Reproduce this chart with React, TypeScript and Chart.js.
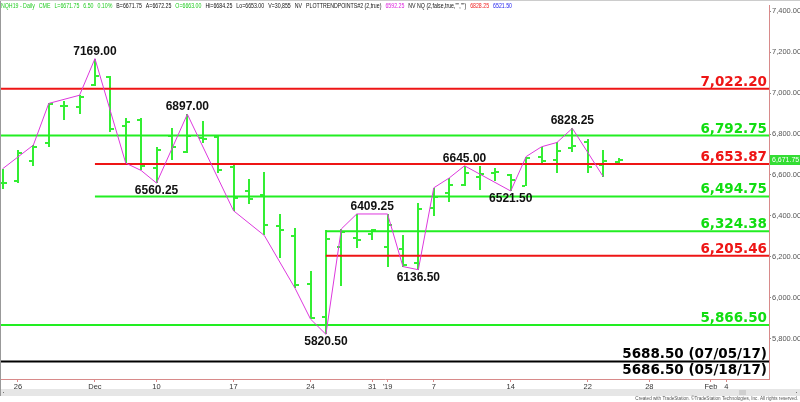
import { useEffect, useRef } from 'react';
import { Chart, registerables } from 'chart.js';

Chart.register(...registerables);

// ---- Data ----
const BAR_DATES = ['Nov 23','Nov 26','Nov 27','Nov 28','Nov 29','Nov 30','Dec 3','Dec 4','Dec 6','Dec 7','Dec 10','Dec 11','Dec 12','Dec 13','Dec 14','Dec 17','Dec 18','Dec 19','Dec 20','Dec 21','Dec 24','Dec 26','Dec 27','Dec 28','Dec 31','Jan 2','Jan 3','Jan 4','Jan 7','Jan 8','Jan 9','Jan 10','Jan 11','Jan 14','Jan 15','Jan 16','Jan 17','Jan 18','Jan 22','Jan 23','Jan 24'];
const BAR_IDX = [-1,0,1,2,3,4,5,6,7,8,9,10,11,12,13,14,15,16,17,18,19,20,21,22,23,24,25,26,27,28,29,30,31,32,33,34,35,36,37,38,39];
const OPEN  = [6560,6572,6666,6754,6939,6931,7040,7080,6840,6870,6634,6790,6714,6780,6785,6640,6520,6500,6350,6300,6065,5906,6250,6290,6310,6250,6240,6171,6440,6510,6553,6590,6610,6600,6548,6690,6674,6730,6762,6650,6663];
const HIGH  = [6630,6722,6746,6950,6963,6990,7169,7083,6879,6879,6735,6831,6897,6864,6791,6653,6581,6613,6409,6340,6128,6329,6336,6409.25,6336,6408,6304,6465,6537,6585,6645,6642,6634,6606,6690,6738,6762,6828.25,6778,6722,6684.25];
const LOW   = [6529,6561,6642,6738,6870,6899,7035,6810,6658,6622,6560.25,6674,6706,6754,6610,6425,6457,6304,6192,6045,5895,5820.5,6055,6245,6281,6152,6152,6136.5,6400,6468,6545,6526,6570,6521.5,6545,6661,6610,6714,6610,6592.25,6653];
const CLOSE = [6562,6706,6738,6947,6935,6979,7085,6826,6858,6645,6722,6735,6790,6776,6623,6489,6481,6353,6330,6063,5902,6288,6320,6280,6330,6353,6160,6436,6490,6553,6610,6605,6617,6575,6682,6666,6719,6740,6640,6666,6671.75];

const PIVOT_IDX = [-1,1,2,4,5,7,8,9,11,14,16,18,19,20,21,22,24,25,26,27,28,29,32,33,34,35,36,38];
const PIVOT_VAL = [6630,6746,6950,6990,7169,6658,6622,6560.25,6897,6425,6304,6045,5895,5820.5,6336,6409.25,6409.25,6152,6136.5,6537,6585,6645,6521.5,6690,6738,6759,6828.25,6592.25];

const SWING_IDX = [5,9,11,20,23,26,29,32,36];
const SWING_VAL = [7169,6560.25,6897,5820.5,6409.25,6136.5,6645,6521.5,6828.25];
const SWING_POS = ['above','below','above','below','above','below','above','below','above'];

const X_MIN = -1.1;
const X_MAX = 48.77;
const LEVEL_VAL   = [7022.20,6792.75,6653.87,6494.75,6324.38,6205.46,5866.50,5688.50,5686.50];
const LEVEL_START = [X_MIN,X_MIN,5,5,20,20,X_MIN,X_MIN,X_MIN];
const LEVEL_KIND  = ['red','green','red','green','green','red','green','black','black'];
const LEVEL_NOTE  = ['','','','','','','','(07/05/17)','(05/18/17)'];

const X_TICK_IDX = [0,5,9,14,19,23,24,27,32,37,41,45,46];
const X_TICK_LABELS = ['26','Dec','10','17','24','31',"'19",'7','14','22','28','Feb','4'];
const Y_TICKS = [5800,6000,6200,6400,6600,6800,7000,7200,7400];
const Y_MIN = 5602;
const Y_MAX = 7429;

const HEADER_TEXT = ['NQH19 - Daily','CME','L=6671.75','6.50','0.10%','B=6671.75','A=6672.25','O=6663.00','Hi=6684.25','Lo=6653.00','V=30,855','NV','PLOTTRENDPOINTS#2 (2,true)','6592.25','NV NQ (2,false,true,"","")','6828.25','6521.50'];
const HEADER_COLOR = ['g','g','g','g','g','k','k','g','k','k','k','k','k','m','k','r','b'];

// ---- Styles ----
const BAR_COLOR = '#33ee33';
const COLORS: Record<string, string> = { red: '#ee1515', green: '#22ee22', black: '#000000' };
const TEXT_COLORS: Record<string, string> = { red: '#ee1515', green: '#11dd11', black: '#000000' };
const HEAD_COLORS: Record<string, string> = { g: '#22cc22', k: '#111111', m: '#dd22dd', r: '#ee2222', b: '#2222ee' };
const AXIS_COLOR = '#d88a8a';
const FONT = 'Arial, "Liberation Sans", sans-serif';
const LABEL_FONT = '"DejaVu Sans", Verdana, sans-serif';

const fmt = (v: number) => v.toLocaleString('en-US', { minimumFractionDigits: 2, maximumFractionDigits: 2 });

const ohlcPlugin = {
  id: 'ohlc',
  beforeDatasetsDraw(chart: any) {
    const { ctx, chartArea: a, scales } = chart;
    const xs = scales.x, ys = scales.y;
    ctx.save();
    ctx.beginPath();
    ctx.rect(a.left, a.top, a.right - a.left, a.bottom - a.top);
    ctx.clip();
    ctx.fillStyle = BAR_COLOR;
    BAR_IDX.forEach((idx, k) => {
      const px = Math.round(xs.getPixelForValue(idx));
      const yh = Math.round(ys.getPixelForValue(HIGH[k]));
      const yl = Math.round(ys.getPixelForValue(LOW[k]));
      const yo = Math.round(ys.getPixelForValue(OPEN[k]));
      const yc = Math.round(ys.getPixelForValue(CLOSE[k]));
      ctx.fillRect(px - 1, yh, 2, Math.max(1, yl - yh));
      ctx.fillRect(px - 4, yo - 1, 3, 2);
      ctx.fillRect(px + 1, yc - 1, 3, 2);
    });
    ctx.restore();
  },
};

const labelPlugin = {
  id: 'labels',
  afterDatasetsDraw(chart: any) {
    const { ctx, chartArea: a, scales } = chart;
    const xs = scales.x, ys = scales.y;
    ctx.save();
    ctx.font = `bold 12px ${FONT}`;
    ctx.fillStyle = '#111';
    ctx.textAlign = 'center';
    ctx.textBaseline = 'alphabetic';
    SWING_IDX.forEach((idx, k) => {
      const px = xs.getPixelForValue(idx);
      const py = ys.getPixelForValue(SWING_VAL[k]);
      const by = SWING_POS[k] === 'above' ? py - 4 : py + 11;
      ctx.fillText(SWING_VAL[k].toFixed(2), px, by);
    });
    ctx.font = `bold 13.5px ${LABEL_FONT}`;
    ctx.textAlign = 'right';
    let blackCount = 0;
    LEVEL_VAL.forEach((v, k) => {
      const py = ys.getPixelForValue(v);
      const kind = LEVEL_KIND[k];
      ctx.fillStyle = TEXT_COLORS[kind];
      if (kind === 'black') {
        const txt = `${v.toFixed(2)} ${LEVEL_NOTE[k]}`;
        const by = blackCount === 0 ? py - 3 : py + 12;
        blackCount++;
        ctx.fillText(txt, a.right - 2, by);
      } else {
        ctx.fillText(fmt(v), a.right - 2, py - 3);
      }
    });
    ctx.restore();
  },
};

const decoPlugin = {
  id: 'deco',
  afterDraw(chart: any) {
    const { ctx, chartArea: a, scales, width } = chart;
    const ys = scales.y;
    ctx.save();
    ctx.strokeStyle = '#999';
    ctx.lineWidth = 1;
    ctx.beginPath();
    ctx.moveTo(0.5, 0);
    ctx.lineTo(0.5, 396);
    ctx.stroke();
    ctx.strokeStyle = '#ccc';
    ctx.beginPath();
    ctx.moveTo(0, 0.5);
    ctx.lineTo(width, 0.5);
    ctx.stroke();
    // header, fitted into the top-left strip
    ctx.font = `7px ${FONT}`;
    ctx.textAlign = 'left';
    ctx.textBaseline = 'middle';
    const gap = 4;
    const widths = HEADER_TEXT.map((t) => ctx.measureText(t).width);
    const natural = widths.reduce((s, w) => s + w, 0);
    const sx = (511 - gap * (HEADER_TEXT.length - 1)) / natural;
    let cx = 1;
    HEADER_TEXT.forEach((t, i) => {
      ctx.save();
      ctx.translate(cx, 6);
      ctx.scale(sx, 1);
      ctx.fillStyle = HEAD_COLORS[HEADER_COLOR[i]];
      ctx.fillText(t, 0, 0);
      ctx.restore();
      cx += widths[i] * sx + gap;
    });
    // last price box on the axis
    const last = CLOSE[CLOSE.length - 1];
    const py = Math.round(ys.getPixelForValue(last));
    ctx.fillStyle = '#33dd33';
    ctx.fillRect(a.right + 1, py - 5, width - a.right - 1, 10);
    ctx.fillStyle = '#ffffff';
    ctx.font = `7px ${FONT}`;
    ctx.fillText(fmt(last), a.right + 3, py);
    // scrollbar
    ctx.fillStyle = '#e6e6e6';
    ctx.fillRect(1, 389, width - 1, 7);
    ctx.fillStyle = '#cfcfcf';
    ctx.fillRect(739, 390, 7, 5);
    ctx.fillStyle = '#777';
    ctx.fillRect(3, 392, 1, 1);
    ctx.fillRect(796, 392, 1, 1);
    // copyright
    ctx.fillStyle = '#555';
    ctx.font = `4.6px ${FONT}`;
    ctx.textAlign = 'right';
    ctx.fillText('Created with TradeStation. \u00A9TradeStation Technologies, Inc. All rights reserved.', 798, 399);
    ctx.restore();
  },
};

export default function App() {
  const ref = useRef<HTMLCanvasElement | null>(null);

  useEffect(() => {
    document.body.style.margin = '0';
    const canvas = ref.current;
    if (!canvas) return;

    const datasets: any[] = [];
    datasets.push({
      type: 'line',
      data: PIVOT_IDX.map((x, i) => ({ x, y: PIVOT_VAL[i] })),
      borderColor: '#dd38dd',
      borderWidth: 1,
      pointRadius: 0,
      tension: 0,
    });
    LEVEL_VAL.forEach((v, k) => {
      datasets.push({
        type: 'line',
        data: [{ x: LEVEL_START[k], y: v }, { x: X_MAX, y: v }],
        borderColor: COLORS[LEVEL_KIND[k]],
        borderWidth: LEVEL_KIND[k] === 'black' ? 1.5 : 2,
        pointRadius: 0,
      });
    });

    const chart = new Chart(canvas, {
      type: 'line',
      data: { datasets },
      options: {
        responsive: false,
        animation: false,
        events: [],
        layout: { padding: { left: 1, top: 0, right: 0, bottom: 0 } },
        plugins: { legend: { display: false }, tooltip: { enabled: false } },
        scales: {
          x: {
            type: 'linear',
            position: 'bottom',
            min: X_MIN,
            max: X_MAX,
            afterBuildTicks: (s: any) => { s.ticks = X_TICK_IDX.map((v) => ({ value: v })); },
            afterFit: (s: any) => { s.height = 23; },
            ticks: {
              autoSkip: false,
              maxRotation: 0,
              padding: 0,
              color: '#333',
              font: { family: FONT, size: 7.5 },
              callback: (v: any) => {
                const i = X_TICK_IDX.indexOf(Number(v));
                return i >= 0 ? X_TICK_LABELS[i] : '';
              },
            },
            grid: { drawOnChartArea: false, drawTicks: true, tickLength: 3, color: AXIS_COLOR },
            border: { color: AXIS_COLOR, width: 1 },
          },
          y: {
            type: 'linear',
            position: 'right',
            min: Y_MIN,
            max: Y_MAX,
            afterBuildTicks: (s: any) => { s.ticks = Y_TICKS.map((v) => ({ value: v })); },
            afterFit: (s: any) => { s.width = 31; },
            ticks: {
              padding: 1,
              color: '#555',
              font: { family: FONT, size: 7.5 },
              callback: (v: any) => fmt(Number(v)),
            },
            grid: { drawOnChartArea: false, drawTicks: true, tickLength: 2, color: '#888' },
            border: { color: AXIS_COLOR, width: 1 },
          },
        },
      },
      plugins: [ohlcPlugin, labelPlugin, decoPlugin],
    });

    return () => chart.destroy();
  }, []);

  return (
    <div style={{ width: 800, height: 402, background: '#fff' }}>
      <canvas ref={ref} width={800} height={402} style={{ display: 'block' }} />
    </div>
  );
}
